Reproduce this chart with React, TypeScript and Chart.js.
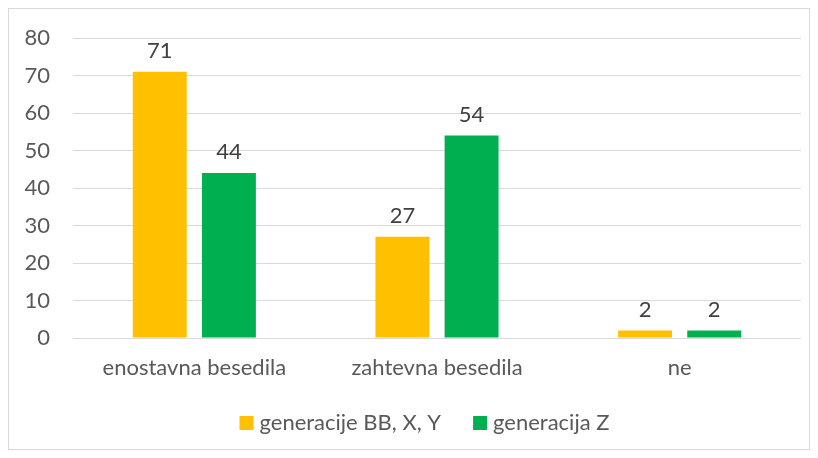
import React, { useEffect, useRef } from "react";
import { Chart, registerables } from "chart.js";

Chart.register(...registerables);

const categories = ["enostavna besedila", "zahtevna besedila", "ne"];
const seriesNames = ["generacije BB, X, Y", "generacija Z"];
const seriesBBXY = [71, 27, 2];
const seriesZ = [44, 54, 2];
const colors = ["#FFC000", "#00B050"];
const yTicks = [0, 10, 20, 30, 40, 50, 60, 70, 80];

const FONT = "Lato, 'Open Sans', sans-serif";
const FS = 22;

const dataLabels = {
  id: "dataLabels",
  afterDatasetsDraw(chart: any) {
    const ctx = chart.ctx;
    ctx.save();
    ctx.font = `${FS}px ${FONT}`;
    ctx.fillStyle = "#404040";
    ctx.textAlign = "center";
    ctx.textBaseline = "alphabetic";
    chart.data.datasets.forEach((ds: any, i: number) => {
      const meta = chart.getDatasetMeta(i);
      meta.data.forEach((bar: any, j: number) => {
        ctx.fillText(String(ds.data[j]), bar.x, bar.y - 14);
      });
    });
    ctx.restore();
  },
};

// Legend drawn on the chart canvas (Excel-like: small gap between swatch and text)
const bottomLegend = {
  id: "bottomLegend",
  afterDraw(chart: any) {
    const ctx = chart.ctx;
    ctx.save();
    ctx.font = `${FS}px ${FONT}`;
    const box = 14;
    const textGap = 6;
    const itemGap = 32;
    const items = chart.data.datasets.map((ds: any) => ({
      text: ds.label,
      color: ds.backgroundColor,
      w: ctx.measureText(ds.label).width,
    }));
    const total =
      items.reduce((s: number, it: any) => s + box + textGap + it.w, 0) + itemGap * (items.length - 1);
    const cx = 415.5;
    const cy = 414;
    let x = cx - total / 2;
    ctx.textAlign = "left";
    ctx.textBaseline = "middle";
    items.forEach((it: any) => {
      ctx.fillStyle = it.color;
      ctx.fillRect(x, cy - box / 2, box, box);
      x += box + textGap;
      ctx.fillStyle = "#595959";
      ctx.fillText(it.text, x, cy);
      x += it.w + itemGap;
    });
    ctx.restore();
  },
};

export default function App() {
  const ref = useRef<HTMLCanvasElement>(null);
  useEffect(() => {
    if (!ref.current) return;
    const chart = new Chart(ref.current, {
      type: "bar",
      data: {
        labels: categories,
        datasets: [
          { label: seriesNames[0], data: seriesBBXY, backgroundColor: colors[0], barPercentage: 0.78, categoryPercentage: 0.57 },
          { label: seriesNames[1], data: seriesZ, backgroundColor: colors[1], barPercentage: 0.78, categoryPercentage: 0.57 },
        ],
      },
      options: {
        animation: false,
        responsive: false,
        layout: { padding: { left: 0, right: 8, top: 29, bottom: 74 } },
        plugins: {
          tooltip: { enabled: false },
          legend: { display: false },
        },
        scales: {
          x: {
            grid: { display: false },
            border: { display: false },
            afterFit: (scale: any) => {
              scale.height = 37;
              scale.paddingLeft = 0;
              scale.paddingRight = 0;
            },
            ticks: { color: "#595959", font: { family: FONT, size: FS }, padding: 9, maxRotation: 0 },
          },
          y: {
            min: 0,
            max: 80,
            afterBuildTicks: (scale: any) => {
              scale.ticks = yTicks.map((v) => ({ value: v }));
            },
            afterFit: (scale: any) => {
              scale.width = 64;
              scale.paddingTop = 0;
              scale.paddingBottom = 0;
            },
            grid: { color: "#d9d9d9", drawTicks: false, lineWidth: 1 },
            border: { display: false },
            ticks: { color: "#595959", font: { family: FONT, size: FS }, padding: 23 },
          },
        },
      },
      plugins: [dataLabels, bottomLegend],
    });
    return () => chart.destroy();
  }, []);
  return (
    <div
      style={{
        position: "absolute",
        left: 8,
        top: 8,
        width: 802,
        height: 442,
        border: "1px solid #d9d9d9",
        boxSizing: "border-box",
        background: "#fff",
      }}
    >
      <canvas ref={ref} width={800} height={440} style={{ display: "block" }} />
    </div>
  );
}
